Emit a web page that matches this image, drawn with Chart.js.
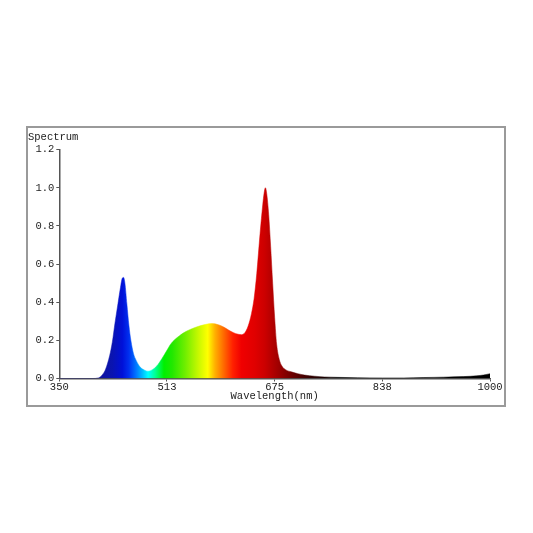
<!DOCTYPE html>
<html>
<head>
<meta charset="utf-8">
<script src="https://cdn.jsdelivr.net/npm/chart.js@4"></script>
<style>
  body { margin: 0; background: #fff; }
  #box { position: absolute; left: 26px; top: 126px; width: 476px; height: 277px; border: 2px solid #9a9a9a; }
</style>
</head>
<body>
<div id="box"><canvas id="chart"></canvas></div>
<script>
// spectrum (nm -> relative intensity)
const wavelengths = [350, 400, 409, 415, 420, 426, 430, 434, 438, 442, 445, 447, 449, 452, 455, 458, 462, 466, 472, 478,
    484, 490, 497, 505, 512, 518, 524, 531, 537, 545, 557, 570, 580, 590, 598, 606, 613, 620, 625, 630,
    635, 640, 644, 648, 653, 657, 659, 661, 663, 666, 669, 672, 675, 678, 682, 686, 692, 700, 710, 720,
    735, 750, 770, 800, 838, 870, 900, 930, 960, 980, 990, 1000];
const intensity = [0, 0, 0.003, 0.02, 0.05, 0.12, 0.19, 0.29, 0.38, 0.47, 0.525, 0.53, 0.5, 0.39, 0.28, 0.2, 0.13, 0.095, 0.06, 0.045,
    0.038, 0.045, 0.065, 0.105, 0.145, 0.18, 0.203, 0.223, 0.238, 0.253, 0.27, 0.283, 0.288, 0.282, 0.27, 0.253, 0.24, 0.232, 0.23, 0.24,
    0.275, 0.34, 0.42, 0.55, 0.76, 0.91, 0.97, 1.0, 0.97, 0.86, 0.69, 0.5, 0.32, 0.18, 0.1, 0.065, 0.045, 0.035, 0.025, 0.018,
    0.012, 0.008, 0.006, 0.004, 0.003, 0.003, 0.005, 0.007, 0.01, 0.014, 0.018, 0.025];

const xTickValues = [350, 512.5, 675, 837.5, 1000];
const xTickLabels = ["350", "513", "675", "838", "1000"];
const yTickValues = [0, 0.2, 0.4, 0.6, 0.8, 1.0, 1.2];

// colour of the fill along the wavelength axis
const stopNm = [350, 405, 430, 445, 455, 465, 475, 484, 495, 508, 520, 540, 560, 574, 585, 598, 612, 625, 645, 660, 680, 700, 730, 770, 1000];
const stopColor = ["#10109a", "#10109a", "#0a14b0", "#0010d8", "#0030f0", "#0070ff", "#00b8ff", "#00ffff", "#00ff90", "#00f000",
    "#20e800", "#70ee00", "#c8f800", "#ffff00", "#ffb000", "#ff6a00", "#ff2000", "#f00000", "#e00000", "#cc0000",
    "#a00000", "#700000", "#300000", "#000000", "#000000"];

const mono = "'Liberation Mono', 'DejaVu Sans Mono', monospace";
const txt = "#222";
const axisCol = "#555";

function spectrumFill(context) {
    const chart = context.chart;
    if (!chart.chartArea) return "#c00";
    const xs = chart.scales.x;
    const x0 = xs.getPixelForValue(350);
    const x1 = xs.getPixelForValue(1000);
    const g = chart.ctx.createLinearGradient(x0, 0, x1, 0);
    stopNm.forEach((nm, i) => g.addColorStop((nm - 350) / 650, stopColor[i]));
    return g;
}

new Chart(document.getElementById("chart"), {
    type: "line",
    data: {
        datasets: [{
            data: wavelengths.map((w, i) => ({ x: w, y: intensity[i] })),
            fill: "origin",
            backgroundColor: spectrumFill,
            borderColor: spectrumFill,
            borderWidth: 0.5,
            pointRadius: 0,
            cubicInterpolationMode: "monotone"
        }]
    },
    options: {
        responsive: true,
        maintainAspectRatio: false,
        animation: false,
        layout: { padding: { top: 0, right: 14, left: 0, bottom: 0 } },
        plugins: {
            legend: { display: false },
            tooltip: { enabled: false },
            title: {
                display: true,
                text: "Spectrum",
                align: "start",
                color: txt,
                font: { family: mono, size: 10.5, weight: "normal" },
                padding: { top: 3, bottom: 6 }
            }
        },
        scales: {
            x: {
                type: "linear",
                min: 350,
                max: 1000,
                afterBuildTicks: (s) => { s.ticks = xTickValues.map((v) => ({ value: v })); },
                afterFit: (s) => { s.height = 26.5; },
                ticks: {
                    color: txt,
                    font: { family: mono, size: 10.5 },
                    padding: -1,
                    maxRotation: 0,
                    autoSkip: false,
                    callback: (v, i) => xTickLabels[i]
                },
                grid: { drawOnChartArea: false, tickLength: 3, color: axisCol, lineWidth: 1 },
                border: { color: axisCol, width: 1.5 },
                title: {
                    display: true,
                    text: "Wavelength(nm)",
                    color: txt,
                    font: { family: mono, size: 10.5 },
                    padding: { top: 0, bottom: 2 }
                }
            },
            y: {
                min: 0,
                max: 1.2,
                afterBuildTicks: (s) => { s.ticks = yTickValues.map((v) => ({ value: v })); },
                afterFit: (s) => { s.width = 31.3; },
                ticks: {
                    color: txt,
                    font: { family: mono, size: 10.5 },
                    padding: 2,
                    callback: (v) => v.toFixed(1)
                },
                grid: { drawOnChartArea: false, tickLength: 3, color: axisCol, lineWidth: 1 },
                border: { color: axisCol, width: 1.5 }
            }
        }
    }
});
</script>
</body>
</html>
